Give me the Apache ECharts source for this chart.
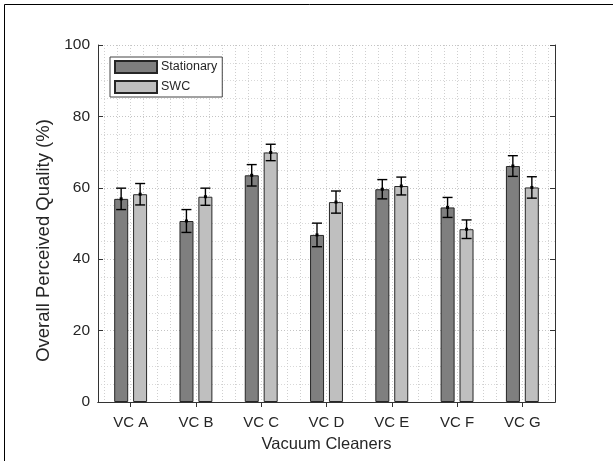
<!DOCTYPE html>
<html>
<head>
<meta charset="utf-8">
<script src="https://cdn.jsdelivr.net/npm/echarts@6/dist/echarts.min.js"></script>
<style>html,body{margin:0;padding:0;background:#fff;overflow:hidden}#c{width:613px;height:461px}</style>
</head>
<body>
<div id="c"></div>
<script>
const categories = ['VC A', 'VC B', 'VC C', 'VC D', 'VC E', 'VC F', 'VC G'];
const stationary = [56.9, 50.7, 63.5, 46.8, 59.6, 54.5, 66.1];
const stationaryErr = [3.0, 3.2, 3.0, 3.3, 2.7, 2.8, 2.9];
const swc = [58.2, 57.5, 69.9, 56.0, 60.5, 48.4, 60.1];
const swcErr = [3.0, 2.4, 2.3, 3.1, 2.5, 2.6, 3.0];
const yTicks = [0, 20, 40, 60, 80, 100];
// positions (x units, 0.5..7.5 in steps of 0.1) used for the vertical dotted grid
const gridX = [];
for (let i = 0; i <= 70; i++) gridX.push((0.5 + 0.1 * i).toFixed(1));

const textColor = '#262626';
const axisColor = '#333';
const font = 'Liberation Sans, Arial, Helvetica, sans-serif';

function errRender(sign) {
  return function (params, api) {
    const i = api.value(0), m = api.value(1), e = api.value(2);
    const band = api.size([1, 0])[0];
    const off = sign * band * 0.1455;
    const t = api.coord([i, m + e]);
    const b = api.coord([i, m - e]);
    const c = api.coord([i, m]);
    const x = t[0] + off;
    const cap = 5;
    const st = { stroke: '#000', lineWidth: 1.4 };
    return {
      type: 'group',
      children: [
        { type: 'line', shape: { x1: x, y1: t[1], x2: x, y2: b[1] }, style: st },
        { type: 'line', shape: { x1: x - cap, y1: t[1], x2: x + cap, y2: t[1] }, style: st },
        { type: 'line', shape: { x1: x - cap, y1: b[1], x2: x + cap, y2: b[1] }, style: st },
        { type: 'rect', shape: { x: x - 1.5, y: c[1] - 1.5, width: 3, height: 3 }, style: { fill: '#000' } }
      ]
    };
  };
}

const chart = echarts.init(document.getElementById('c'), null, { renderer: 'canvas' });
chart.setOption({
  animation: false,
  backgroundColor: '#fff',
  textStyle: { fontFamily: font },
  graphic: [{
    type: 'rect', silent: true, z: -10,
    shape: { x: 4.5, y: 4.5, width: 700, height: 600 },
    style: { fill: 'none', stroke: '#000', lineWidth: 1 }
  }],
  grid: { left: 98, right: 58, top: 45, bottom: 59, containLabel: false },
  legend: {
    data: ['Stationary', 'SWC'],
    orient: 'vertical',
    left: 110, top: 57,
    icon: 'rect',
    itemWidth: 42, itemHeight: 12, itemGap: 6,
    padding: [3, 5, 3, 4],
    backgroundColor: '#fff',
    borderColor: '#444', borderWidth: 1,
    textStyle: { fontSize: 12.5, color: textColor, fontFamily: font, padding: [0, 0, 0, -1] }
  },
  xAxis: [
    {
      type: 'category', data: categories, position: 'bottom', boundaryGap: true,
      axisLine: { show: true, lineStyle: { color: axisColor, width: 1 } },
      axisTick: { show: false },
      axisLabel: { fontSize: 15, color: textColor, margin: 13, fontFamily: font },
      splitLine: { show: false },
      name: 'Vacuum Cleaners', nameLocation: 'middle', nameGap: 34,
      nameTextStyle: { fontSize: 16.5, color: textColor, fontFamily: font }
    },
    {
      type: 'category', data: categories, position: 'top', boundaryGap: true,
      axisLine: { show: true, lineStyle: { color: axisColor, width: 1 } },
      axisTick: { show: true, inside: true, alignWithLabel: true, length: 5, lineStyle: { color: axisColor } },
      axisLabel: { show: false },
      splitLine: { show: false }
    },
    {
      type: 'category', data: gridX, position: 'bottom', boundaryGap: false,
      axisLine: { show: false }, axisTick: { show: false }, axisLabel: { show: false },
      splitLine: {
        show: true,
        interval: function (idx) { return idx % 2 === 1; },
        lineStyle: { color: '#cfcfcf', type: [1, 2], width: 1 }
      }
    }
  ],
  yAxis: [
    {
      type: 'value', min: 0, max: 100, interval: 20, position: 'left',
      axisLine: { show: true, lineStyle: { color: axisColor, width: 1 } },
      axisTick: { show: true, inside: true, length: 5, lineStyle: { color: axisColor } },
      axisLabel: { fontSize: 15.5, color: textColor, margin: 8, fontFamily: font,
        formatter: v => (yTicks.indexOf(v) >= 0 ? String(v) : '') },
      splitLine: { show: true, lineStyle: { color: '#c4c4c4', type: [1, 2], width: 1 } },
      minorTick: { show: false, splitNumber: 4 },
      minorSplitLine: { show: true, lineStyle: { color: '#d8d8d8', type: [1, 2], width: 1 } },
      name: 'Overall Perceived Quality (%)', nameLocation: 'middle', nameGap: 41, nameRotate: 90,
      nameTextStyle: { fontSize: 18.5, color: textColor, fontFamily: font, padding: [0, 34, 0, 0] }
    },
    {
      type: 'value', min: 0, max: 100, interval: 20, position: 'right',
      axisLine: { show: true, lineStyle: { color: axisColor, width: 1 } },
      axisTick: { show: true, inside: true, length: 5, lineStyle: { color: axisColor } },
      axisLabel: { show: false },
      splitLine: { show: false }
    }
  ],
  series: [
    {
      name: 'Stationary', type: 'bar', xAxisIndex: 0, yAxisIndex: 0,
      data: stationary, barWidth: 14, barGap: '35%',
      itemStyle: { color: '#7f7f7f', borderColor: '#262626', borderWidth: 1 }
    },
    {
      name: 'SWC', type: 'bar', xAxisIndex: 0, yAxisIndex: 0,
      data: swc, barWidth: 14,
      itemStyle: { color: '#bfbfbf', borderColor: '#262626', borderWidth: 1 }
    },
    {
      type: 'custom', xAxisIndex: 0, yAxisIndex: 0, z: 5,
      renderItem: errRender(-1),
      encode: { x: 0, y: 1 },
      data: stationary.map((v, i) => [i, v, stationaryErr[i]])
    },
    {
      type: 'custom', xAxisIndex: 0, yAxisIndex: 0, z: 5,
      renderItem: errRender(1),
      encode: { x: 0, y: 1 },
      data: swc.map((v, i) => [i, v, swcErr[i]])
    }
  ]
});
</script>
</body>
</html>
